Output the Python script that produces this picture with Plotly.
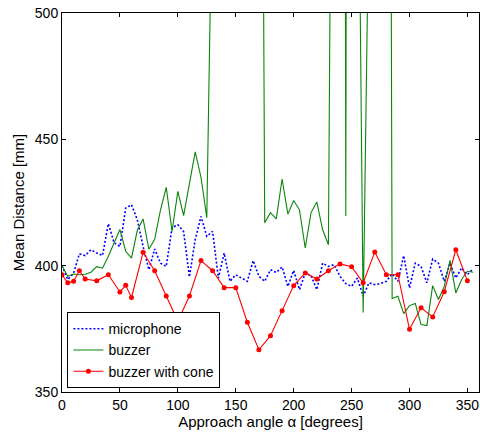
import plotly.graph_objects as go

# microphone: 5-degree steps
mic_angle = list(range(0, 360, 5))
mic_dist = [400, 394.5, 397, 404.7, 404, 406.3, 405, 404, 416.6, 409,
            407.6, 422.8, 424.1, 418.2, 407.6, 398.4, 406.6, 401, 399.7, 415,
            416.2, 413.5, 395.5, 410.3, 419.5, 411.6, 413.6, 395.1, 405, 393.8,
            396.4, 395.1, 393.8, 402, 395.8, 393.8, 398.4, 397.3, 399.5, 391.8,
            398.1, 390.5, 397.1, 396, 390.5, 401, 399.7, 400.4, 395.8, 392.9,
            391.8, 395.1, 387.9, 393.2, 392.5, 392.9, 393.8, 396.8, 393.8, 404,
            391.2, 401, 399.7, 393.2, 402.6, 401, 393.8, 401, 395.1, 399.1,
            396.4, 398.8]

# buzzer: 5-degree steps (values above 500 run off the top of the chart)
buz_angle = list(range(0, 360, 5))
buz_dist = [400, 395.8, 396.7, 396.4, 396.6, 397.4, 399.6, 399, 403.7, 409,
            414.3, 405.7, 403, 414, 418.5, 406.5, 410.4, 422, 431, 413.6,
            429.4, 419.8, 433, 445, 435, 419, 560, 620, 700, 760,
            820, 860, 900, 880, 880, 417, 421, 418.5, 434.3, 420.4,
            425.8, 422.1, 407, 421, 425.2, 414.2, 408.3, 760, 1800, 419.7,
            1800, 618, 381.5, 546, 700, 900, 1190, 387, 387.9, 381,
            384.2, 385, 376.7, 376.3, 392.1, 386.6, 391.8, 402.1, 389.2, 394.5,
            397.8, 397.4]

# buzzer with cone
cone_angle = [0, 5, 10, 15, 20, 30, 40, 50, 55, 60, 70, 80, 90, 100, 110, 120,
              130, 140, 150, 160, 170, 180, 190, 200, 210, 220, 230, 240, 250,
              260, 270, 280, 290, 300, 310, 320, 330, 340, 350]
cone_dist = [396.4, 393.2, 393.8, 398, 394.7, 394, 396.4, 389.6, 392.2, 387.4,
             405.3, 398, 388, 378, 388, 402, 398, 391.3, 391.3, 377.6,
             366.7, 372.3, 382.2, 392.1, 397.1, 394.7, 398, 400.7, 399.6,
             393.2, 405.4, 396.4, 396.4, 374.8, 383.3, 379.7, 389.7, 406.3, 394]

x_ticks = [0, 50, 100, 150, 200, 250, 300, 350]
y_ticks = [350, 400, 450, 500]

fig = go.Figure()
fig.add_trace(go.Scatter(x=mic_angle, y=mic_dist, mode="lines", name="microphone",
                         line=dict(color="#0000FF", width=1.6, dash="2px,2px")))
fig.add_trace(go.Scatter(x=buz_angle, y=buz_dist, mode="lines", name="buzzer",
                         line=dict(color="#0A850A", width=1.1)))
fig.add_trace(go.Scatter(x=cone_angle, y=cone_dist, mode="lines+markers",
                         name="buzzer with cone",
                         line=dict(color="#FF0000", width=1.1),
                         marker=dict(color="#FF0000", size=5)))

axis_common = dict(showgrid=False, zeroline=False, showline=True, linecolor="black",
                   linewidth=1, mirror="ticks", ticks="inside", ticklen=4,
                   tickcolor="black", tickfont=dict(size=14, color="black"))

fig.update_layout(
    width=480, height=432,
    margin=dict(l=62, r=1, t=13, b=40, autoexpand=False),
    paper_bgcolor="white", plot_bgcolor="white",
    font=dict(family="Liberation Sans, Arial, sans-serif", size=14, color="black"),
    xaxis=dict(range=[0, 360], tickvals=x_ticks, automargin=False,
               title=dict(text="Approach angle α [degrees]", standoff=0,
                          font=dict(size=15)),
               **axis_common),
    yaxis=dict(range=[350, 500], tickvals=y_ticks, automargin=False,
               title=dict(text="Mean Distance [mm]", standoff=6,
                          font=dict(size=15)),
               **axis_common),
    legend=dict(x=0.013, y=0.01, xanchor="left", yanchor="bottom",
                bgcolor="white", bordercolor="black", borderwidth=1,
                font=dict(size=14), tracegroupgap=0, itemwidth=30),
    showlegend=True,
)

fig.write_html("out.html", config={"displayModeBar": False},
               post_script="document.body.style.margin='0';document.body.style.overflow='hidden';")
